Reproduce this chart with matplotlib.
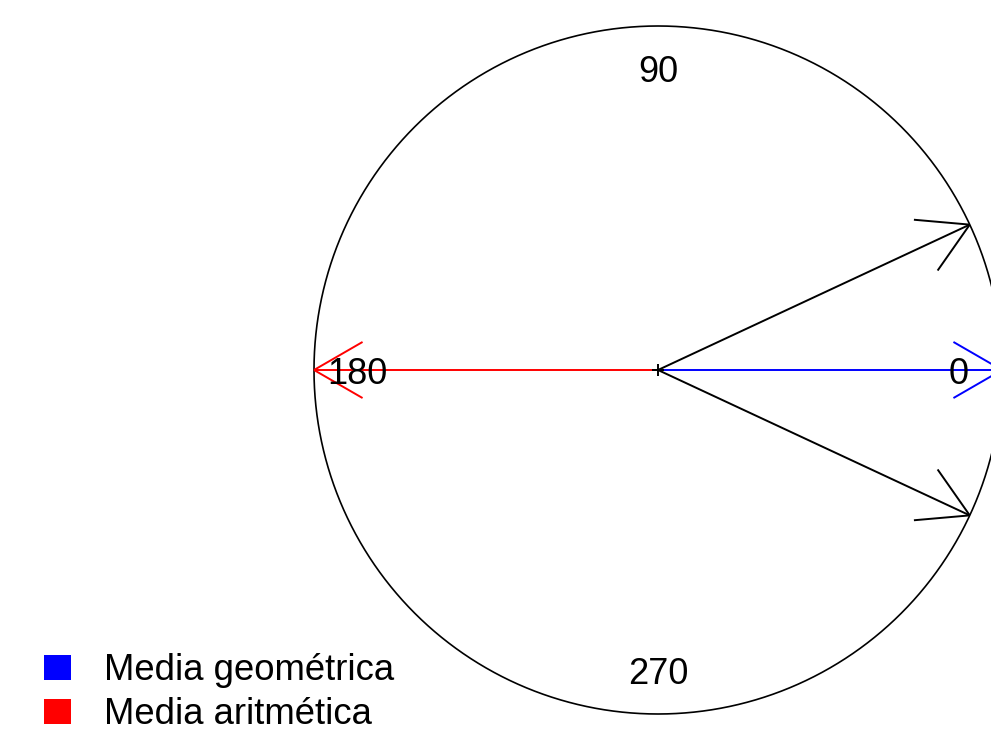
import numpy as np
import matplotlib
matplotlib.use("Agg")
import matplotlib.pyplot as plt

# Observed directions (degrees) and their two means
directions = [25, 335]
mean_geometric = 0
mean_arithmetic = 180
axis_labels = ["0", "90", "180", "270"]
axis_angles = [0, 90, 180, 270]
legend_labels = ["Media geométrica", "Media aritmética"]
legend_colors = ["blue", "red"]

W, H, DPI = 991, 739, 100
cx, cy, R = 658, 370, 344  # centre and radius in pixels

fig = plt.figure(figsize=(W / DPI, H / DPI), dpi=DPI)
ax = fig.add_axes([0, 0, 1, 1])
ax.set_xlim(-cx / R, (W - cx) / R)
ax.set_ylim(-(H - cy) / R, cy / R)
ax.set_aspect("equal")
ax.axis("off")

font = "Liberation Sans"

# unit circle
t = np.linspace(0, 2 * np.pi, 721)
ax.plot(np.cos(t), np.sin(t), color="black", lw=1.2)

# centre marker
ax.plot(0, 0, marker="+", color="black", ms=9, mew=1.4, zorder=5)


def arrow(deg, color, length=1.0, head=0.163, spread=30):
    a = np.deg2rad(deg)
    tx, ty = length * np.cos(a), length * np.sin(a)
    ax.plot([0, tx], [0, ty], color=color, lw=1.4, solid_capstyle="butt")
    back = a + np.pi
    for s in (-spread, spread):
        b = back + np.deg2rad(s)
        ax.plot([tx, tx + head * np.cos(b)], [ty, ty + head * np.sin(b)],
                color=color, lw=1.4, solid_capstyle="butt")


for d in directions:
    arrow(d, "black")
arrow(mean_geometric, "blue")
arrow(mean_arithmetic, "red")

# direction labels
off = 4 / R
for lab, ang in zip(axis_labels, axis_angles):
    a = np.deg2rad(ang)
    r = 0.875
    ax.text(r * np.cos(a), r * np.sin(a) - off, lab, ha="center", va="center",
            fontsize=26, family=font, color="black", zorder=6)

# legend
for i, (lab, col) in enumerate(zip(legend_labels, legend_colors)):
    yc = 668 + i * 44
    ax.add_patch(plt.Rectangle(((44 - cx) / R, (cy - yc - 12) / R), 27 / R, 25 / R,
                               color=col, lw=0))
    ax.text((104 - cx) / R, (cy - yc - 3) / R, lab, ha="left", va="center",
            fontsize=26.3, family=font, color="black")

fig.savefig("out.png", dpi=DPI)
